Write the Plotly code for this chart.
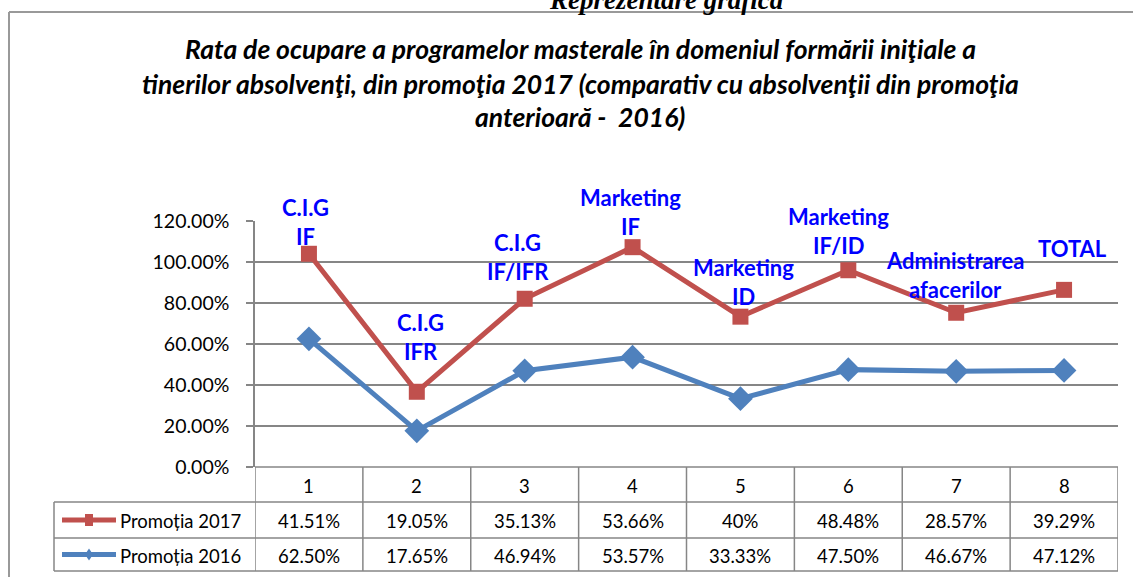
import plotly.graph_objects as go

categories = [1, 2, 3, 4, 5, 6, 7, 8]
promotia_2017 = [41.51, 19.05, 35.13, 53.66, 40, 48.48, 28.57, 39.29]
promotia_2016 = [62.50, 17.65, 46.94, 53.57, 33.33, 47.50, 46.67, 47.12]
program_labels = [["C.I.G", "IF"], ["C.I.G", "IFR"], ["C.I.G", "IF/IFR"], ["Marketing", "IF"],
                  ["Marketing", "ID"], ["Marketing", "IF/ID"], ["Administrarea", "afacerilor"], ["TOTAL"]]
y_ticks = [0, 20, 40, 60, 80, 100, 120]

# label placement (pixels): last line offset above marker, horizontal shift
label_dy = [17, 40, 27, 21, 20, 25, 23, 41]
label_dx = [-3, 4, -7, -2, 3, -10, -1, 8]
LINE_H = 29

RED = "#C0504D"
BLUE = "#4F81BD"
GRID = "#868686"
FONT = "Lato"

W, H = 1133, 577
L, R, T, B = 255, W - 1118, 221, H - 467


def px(x):
    return (x - L) / (W - L - R)


def py(y):
    return (H - B - y) / (H - T - B)


def fmt(v):
    return f"{v:.0f}%" if float(v).is_integer() else f"{v:.2f}%"


fig = go.Figure()
fig.add_trace(go.Scatter(x=categories, y=promotia_2016, name="Promoția 2016", stackgroup="s", fill="none",
                         mode="lines+markers", line=dict(color=BLUE, width=5),
                         marker=dict(symbol="diamond", size=19, color=BLUE)))
fig.add_trace(go.Scatter(x=categories, y=promotia_2017, name="Promoția 2017", stackgroup="s", fill="none",
                         mode="lines+markers", line=dict(color=RED, width=5),
                         marker=dict(symbol="square", size=16, color=RED)))

ann = []
shapes = []

# data labels above stacked 2017 points
for i, c in enumerate(categories):
    top = promotia_2016[i] + promotia_2017[i]
    lines = program_labels[i]
    n = len(lines)
    for j, t in enumerate(lines):
        ann.append(dict(x=c, y=top, xref="x", yref="y", text=f"<b>{t}</b>", showarrow=False,
                        xanchor="center", yanchor="middle",
                        xshift=label_dx[i], yshift=label_dy[i] + (n - 1 - j) * LINE_H,
                        font=dict(family=FONT, size=22, color="#0000FF")))

# title
title_lines = ["Rata de ocupare a programelor masterale în domeniul formării iniţiale a",
               "tinerilor absolvenţi, din promoţia 2017 (comparativ cu absolvenţii din promoţia",
               "anterioară -  2016)"]
for t, yc in zip(title_lines, [49, 84, 117]):
    ann.append(dict(x=px(580), y=py(yc), xref="paper", yref="paper", text=f"<b><i>{t}</i></b>",
                    showarrow=False, xanchor="center", yanchor="middle",
                    font=dict(family=FONT, size=26.5, color="#000000")))

# cut-off heading at top
ann.append(dict(x=px(666), y=py(0), xref="paper", yref="paper", text="<b><i>Reprezentare grafică</i></b>",
                showarrow=False, xanchor="center", yanchor="middle",
                font=dict(family="Liberation Serif", size=27, color="#000000")))

# outer frame
frame = dict(color="#999999", width=2)
shapes.append(dict(type="line", xref="paper", yref="paper", x0=px(9), x1=px(1140), y0=py(12), y1=py(12), line=frame))
shapes.append(dict(type="line", xref="paper", yref="paper", x0=px(9), x1=px(9), y0=py(12), y1=py(590), line=frame))

# data table
ROW_TOP, ROW1, ROW2, ROW_BOT = 467, 502, 538, 571
TABLE_LEFT = 54
tl = dict(color=GRID, width=1.5)
for yy in [ROW1, ROW2, ROW_BOT]:
    shapes.append(dict(type="line", xref="paper", yref="paper", x0=px(TABLE_LEFT), x1=px(1118), y0=py(yy), y1=py(yy), line=tl))
shapes.append(dict(type="line", xref="paper", yref="paper", x0=px(255), x1=px(1118), y0=py(ROW_TOP), y1=py(ROW_TOP), line=tl))
shapes.append(dict(type="line", xref="paper", yref="paper", x0=px(TABLE_LEFT), x1=px(TABLE_LEFT), y0=py(ROW1), y1=py(ROW_BOT), line=tl))
for k in range(len(categories) + 1):
    xv = categories[0] - 0.5 + k
    shapes.append(dict(type="line", xref="x", yref="paper", x0=xv, x1=xv, y0=py(ROW_TOP), y1=py(ROW_BOT), line=tl))

cell_font = dict(family=FONT, size=18.5, color="#000000")
for i, c in enumerate(categories):
    for text, yc in [(str(c), (ROW_TOP + ROW1) / 2 + 1), (fmt(promotia_2017[i]), (ROW1 + ROW2) / 2 + 1),
                     (fmt(promotia_2016[i]), (ROW2 + ROW_BOT) / 2 + 1)]:
        ann.append(dict(x=c, y=py(yc), xref="x", yref="paper", text=text, showarrow=False,
                        xanchor="center", yanchor="middle", font=cell_font))

# legend keys inside the table
for name, color, yc, kind in [("Promoția 2017", RED, (ROW1 + ROW2) / 2, "square"),
                              ("Promoția 2016", BLUE, (ROW2 + ROW_BOT) / 2, "diamond")]:
    shapes.append(dict(type="line", xref="paper", yref="paper", x0=px(62), x1=px(116), y0=py(yc), y1=py(yc),
                       line=dict(color=color, width=5)))
    if kind == "square":
        shapes.append(dict(type="rect", xref="paper", yref="paper", x0=px(85), x1=px(93), y0=py(yc - 6), y1=py(yc + 6),
                           line=dict(width=0), fillcolor=color))
    else:
        path = (f"M {px(89)},{py(yc - 6)} L {px(93)},{py(yc)} L {px(89)},{py(yc + 6)} L {px(85)},{py(yc)} Z")
        shapes.append(dict(type="path", xref="paper", yref="paper", path=path, line=dict(width=0), fillcolor=color))
    ann.append(dict(x=px(118), y=py(yc + 1), xref="paper", yref="paper", text=name, showarrow=False,
                    xanchor="left", yanchor="middle", font=cell_font))

fig.update_layout(
    width=W, height=H,
    margin=dict(l=L, r=R, t=T, b=B, pad=0),
    paper_bgcolor="white", plot_bgcolor="white",
    showlegend=False,
    annotations=ann, shapes=shapes,
    xaxis=dict(range=[0.5, 8.5], showgrid=False, showticklabels=False, zeroline=False, showline=False, fixedrange=True),
    yaxis=dict(range=[0, 120], tickvals=y_ticks, ticktext=[f"{v:.2f}%" for v in y_ticks],
               showgrid=True, gridcolor=GRID, gridwidth=1.5, zeroline=False,
               showline=True, linecolor=GRID, linewidth=1.5,
               ticks="outside", ticklen=7, tickcolor=GRID, tickwidth=1.5,
               ticklabelstandoff=13,
               tickfont=dict(family=FONT, size=19.5, color="#000000")),
)

fig.write_html("out.html", config={"displayModeBar": False},
               post_script="document.body.style.margin='0px';document.body.style.overflow='hidden';")
